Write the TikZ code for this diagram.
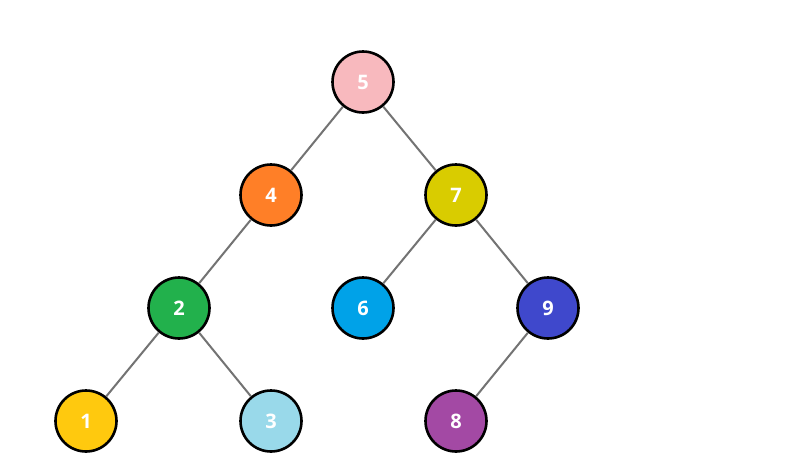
\documentclass[tikz,border=0pt]{standalone}
\usepackage{fontspec}
\setsansfont{Open Sans}
\begin{document}
\begin{tikzpicture}[x=1pt,y=-1pt,
  tn/.style={circle,draw=black,line width=2.6pt,minimum size=61pt,inner sep=0pt,
    font=\sffamily\bfseries\fontsize{20}{24}\selectfont,text=white},
  edge/.style={draw=gray!90!black,line width=2pt}]
\useasboundingbox[fill=white] (0,0) rectangle (804,458);
\definecolor{c5}{HTML}{F8B9BE}
\definecolor{c4}{HTML}{FF7F27}
\definecolor{c7}{HTML}{D9CC00}
\definecolor{c2}{HTML}{22B14C}
\definecolor{c6}{HTML}{00A2E8}
\definecolor{c9}{HTML}{3F48CC}
\definecolor{c1}{HTML}{FFC90E}
\definecolor{c3}{HTML}{99D9EA}
\definecolor{c8}{HTML}{A349A4}
\node[tn,fill=c5] (n5) at (363,82) {5};
\node[tn,fill=c4] (n4) at (271,195) {4};
\node[tn,fill=c7] (n7) at (456,195) {7};
\node[tn,fill=c2] (n2) at (179,308) {2};
\node[tn,fill=c6] (n6) at (363,308) {6};
\node[tn,fill=c9] (n9) at (548,308) {9};
\node[tn,fill=c1] (n1) at (86,421) {1};
\node[tn,fill=c3] (n3) at (271,421) {3};
\node[tn,fill=c8] (n8) at (456,421) {8};
\draw[edge] (n5) -- (n4);
\draw[edge] (n5) -- (n7);
\draw[edge] (n4) -- (n2);
\draw[edge] (n7) -- (n6);
\draw[edge] (n7) -- (n9);
\draw[edge] (n2) -- (n1);
\draw[edge] (n2) -- (n3);
\draw[edge] (n9) -- (n8);
\end{tikzpicture}
\end{document}
